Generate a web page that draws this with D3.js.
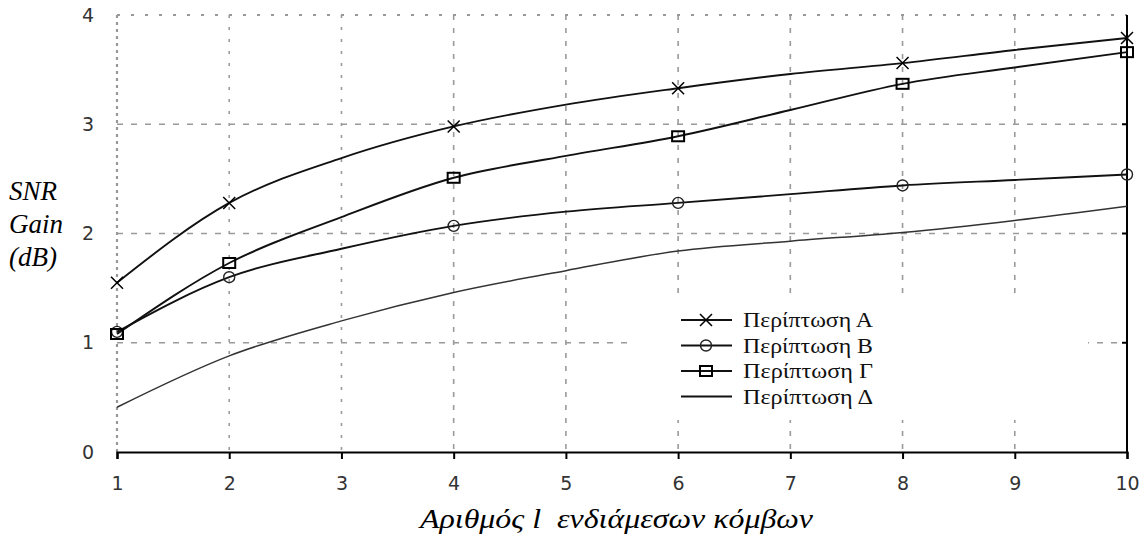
<!DOCTYPE html>
<html><head><meta charset="utf-8">
<script src="https://cdn.jsdelivr.net/npm/d3@7"></script>
<style>body{margin:0;background:#fff}svg{display:block}</style>
</head><body>
<svg id="c" width="1142" height="535"></svg>
<script>
const xValues = [1,2,3,4,5,6,7,8,9,10];
const xTicks = [1,2,3,4,5,6,7,8,9,10];
const yTicks = [0,1,2,3,4];
const markerX = [1,2,4,6,8,10];
const seriesNames = ["Περίπτωση Α","Περίπτωση Β","Περίπτωση Γ","Περίπτωση Δ"];
const seriesA = [1.55,2.28,2.69,2.98,3.18,3.33,3.46,3.56,3.68,3.79];
const seriesB = [1.10,1.60,1.86,2.07,2.20,2.28,2.36,2.44,2.49,2.54];
const seriesG = [1.08,1.73,2.15,2.51,2.71,2.89,3.13,3.37,3.52,3.66];
const seriesD = [0.41,0.88,1.20,1.46,1.66,1.84,1.93,2.01,2.12,2.25];
const markers = ["x","circle","square","none"];
const xLabel = "Αριθμός l  ενδιάμεσων κόμβων";
const yLabel = ["SNR","Gain","(dB)"];

const svg = d3.select("#c");
const L=117, R=1127, T=15, B=452;
const x = d3.scaleLinear().domain([1,10]).range([L,R]);
const y = d3.scaleLinear().domain([0,4]).range([B,T]);

// grid
const g = svg.append("g");
g.selectAll(".vg").data(xTicks.slice(1,-1)).join("line")
  .attr("x1",d=>x(d)).attr("x2",d=>x(d)).attr("y1",T).attr("y2",B)
  .attr("stroke","#9a9a9a").attr("stroke-width",1.6).attr("stroke-dasharray",d=>d<4?"3,9":"5,8");
g.selectAll(".hg").data(yTicks.slice(1,-1)).join("line")
  .attr("x1",L).attr("x2",R).attr("y1",d=>y(d)).attr("y2",d=>y(d))
  .attr("stroke","#9a9a9a").attr("stroke-width",1.4).attr("stroke-dasharray","6,8");
// left & top dotted
g.append("line").attr("x1",L).attr("x2",L).attr("y1",T).attr("y2",B)
  .attr("stroke","#999").attr("stroke-width",2.2).attr("stroke-dasharray","3,4");
g.append("line").attr("x1",L).attr("x2",R).attr("y1",T).attr("y2",T)
  .attr("stroke","#999").attr("stroke-width",2).attr("stroke-dasharray","3,11");
// right solid
g.append("line").attr("x1",R).attr("x2",R).attr("y1",T).attr("y2",B)
  .attr("stroke","#000").attr("stroke-width",2);
g.selectAll(".rt").data(yTicks.slice(1,-1)).join("line")
  .attr("x1",R-5).attr("x2",R).attr("y1",d=>y(d)).attr("y2",d=>y(d))
  .attr("stroke","#000").attr("stroke-width",2);

// legend background
const lgX = 628, lgY = 298;
svg.append("rect").attr("x",lgX).attr("y",lgY).attr("width",460).attr("height",122).attr("fill","#fff");

// x axis
const xAxis = svg.append("g").attr("transform",`translate(0,${B})`)
  .call(d3.axisBottom(x).tickValues(xTicks).tickFormat(d3.format("d")).tickSize(7).tickPadding(18));
xAxis.select(".domain").attr("stroke","#000").attr("stroke-width",2.2);
xAxis.selectAll(".tick line").attr("stroke","#000").attr("stroke-width",2);
xAxis.selectAll("text").attr("font-family","DejaVu Sans").attr("font-size",19).attr("fill","#333");

// y axis labels
const yAxis = svg.append("g").attr("transform",`translate(${L},0)`)
  .call(d3.axisLeft(y).tickValues(yTicks).tickFormat(d3.format("d")).tickSize(0).tickPadding(23));
yAxis.select(".domain").remove();
yAxis.selectAll("text").attr("font-family","DejaVu Sans").attr("font-size",19).attr("fill","#333");

// series
const all = [seriesA,seriesB,seriesG,seriesD];
const line = d3.line().x((d,i)=>x(xValues[i])).y(d=>y(d)).curve(d3.curveMonotoneX);

function drawMarker(sel, type, cx, cy){
  if(type==="x"){
    sel.append("path").attr("d",`M${cx-6},${cy-6}L${cx+6},${cy+6}M${cx-6},${cy+6}L${cx+6},${cy-6}`)
      .attr("stroke","#000").attr("stroke-width",1.5).attr("fill","none");
  } else if(type==="circle"){
    sel.append("circle").attr("cx",cx).attr("cy",cy).attr("r",5.5)
      .attr("stroke","#222").attr("stroke-width",1.4).attr("fill","none");
  } else if(type==="square"){
    sel.append("rect").attr("x",cx-6).attr("y",cy-5).attr("width",12).attr("height",10)
      .attr("stroke","#000").attr("stroke-width",2).attr("fill","none");
  }
}

all.forEach((s,k)=>{
  svg.append("path").datum(s).attr("d",line).attr("fill","none")
    .attr("stroke",k===3?"#333":"#111").attr("stroke-width",k===3?1.5:1.9);
  if(markers[k]!=="none"){
    const mg = svg.append("g");
    markerX.forEach(mx=>{
      const i = xValues.indexOf(mx);
      drawMarker(mg, markers[k], x(mx), y(s[i]));
    });
  }
});

// legend
const lg = svg.append("g");
seriesNames.forEach((n,k)=>{
  const cy = 320 + k*25.5;
  lg.append("line").attr("x1",681).attr("x2",732).attr("y1",cy).attr("y2",cy)
    .attr("stroke","#111").attr("stroke-width",1.9);
  drawMarker(lg, markers[k], 706, cy);
  lg.append("text").attr("x",743).attr("y",cy+7).text(n)
    .attr("font-family","Liberation Serif").attr("font-size",22).attr("fill","#111")
    .attr("textLength",130).attr("lengthAdjust","spacingAndGlyphs");
});

// axis titles
svg.append("text").attr("x",420).attr("y",528)
  .attr("font-family","Liberation Serif").attr("font-style","italic").attr("font-size",28)
  .attr("fill","#000").style("white-space","pre")
  .attr("textLength",393).attr("lengthAdjust","spacingAndGlyphs").text(xLabel);
yLabel.forEach((t,i)=>{
  svg.append("text").attr("x",9).attr("y",200+i*33).text(t)
    .attr("font-family","Liberation Serif").attr("font-style","italic").attr("font-size",27).attr("fill","#000");
});
</script>
</body></html>
